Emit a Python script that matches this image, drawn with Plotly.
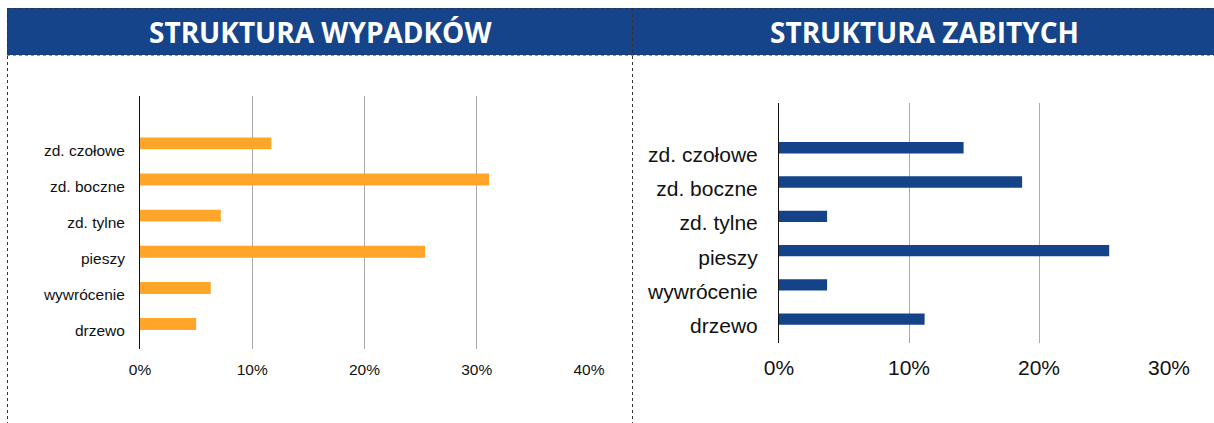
import plotly.graph_objects as go
from plotly.subplots import make_subplots

# Data
categories = ["zd. czołowe", "zd. boczne", "zd. tylne", "pieszy", "wywrócenie", "drzewo"]
wypadki_pct = [11.7, 31.1, 7.2, 25.4, 6.3, 5.0]
zabici_pct = [14.2, 18.7, 3.7, 25.4, 3.7, 11.2]
left_ticks = [0, 10, 20, 30, 40]
right_ticks = [0, 10, 20, 30]
title_left = "STRUKTURA WYPADKÓW"
title_right = "STRUKTURA ZABITYCH"

W, H = 1214, 423
ORANGE = "#FFA52A"
BLUE = "#144389"
HEADER = "#15448A"
FONT = "Liberation Sans, Arial, sans-serif"


def px(x):
    return x / W


def py(y):
    return 1 - y / H


fig = make_subplots(rows=1, cols=2)

fig.add_trace(go.Bar(
    y=categories, x=wypadki_pct, orientation="h",
    marker=dict(color=ORANGE, line=dict(width=0)),
    width=0.33, offset=-0.355, showlegend=False, hoverinfo="x+y",
), row=1, col=1)

fig.add_trace(go.Bar(
    y=categories, x=zabici_pct, orientation="h",
    marker=dict(color=BLUE, line=dict(width=0)),
    width=0.33, offset=-0.36, showlegend=False, hoverinfo="x+y",
), row=1, col=2)

grid = dict(showgrid=True, gridcolor="#ABABAB", gridwidth=1, zeroline=False,
            ticks="", showline=False, automargin=False)

fig.update_xaxes(domain=[px(140), px(589)], range=[0, 40],
                 tickvals=left_ticks, ticktext=[f"{v}%" for v in left_ticks],
                 tickfont=dict(family=FONT, size=15.5, color="#111"),
                 ticklabelstandoff=9, **grid, row=1, col=1)
fig.update_xaxes(domain=[px(779), px(1169)], range=[0, 30],
                 tickvals=right_ticks, ticktext=[f"{v}%" for v in right_ticks],
                 tickfont=dict(family=FONT, size=21, color="#111"),
                 ticklabelstandoff=10, **grid, row=1, col=2)

cat = dict(type="category", categoryorder="array", categoryarray=categories,
           range=[5.5, -1.5], showgrid=False, zeroline=False, ticks="",
           showline=True, linecolor="#111", linewidth=1, automargin=False)

fig.update_yaxes(domain=[py(349), py(96)], tickfont=dict(family=FONT, size=15.5, color="#111"),
                 ticklabelstandoff=11, **cat, row=1, col=1)
fig.update_yaxes(domain=[py(343), py(103)], tickfont=dict(family=FONT, size=21, color="#111"),
                 ticklabelstandoff=16, **cat, row=1, col=2)

shapes = []
# header band
shapes.append(dict(type="rect", xref="paper", yref="paper", x0=px(7), x1=1.0,
                   y0=py(55), y1=py(8), fillcolor=HEADER, line=dict(width=0), layer="below"))
dot = dict(color="#333333", width=1, dash="dot")
# dotted frame lines
shapes.append(dict(type="line", xref="paper", yref="paper", x0=px(7), x1=1.0,
                   y0=py(8.5), y1=py(8.5), line=dot))
shapes.append(dict(type="line", xref="paper", yref="paper", x0=px(7), x1=1.0,
                   y0=py(55), y1=py(55), line=dot))
shapes.append(dict(type="line", xref="paper", yref="paper", x0=px(7.5), x1=px(7.5),
                   y0=py(8), y1=0, line=dot))
shapes.append(dict(type="line", xref="paper", yref="paper", x0=px(632.5), x1=px(632.5),
                   y0=py(8), y1=0, line=dot))

annotations = [
    dict(text=f"<b>{title_left}</b>", x=px(320), y=py(32.5), xref="paper", yref="paper",
         showarrow=False, xanchor="center", yanchor="middle",
         font=dict(family="Open Sans, sans-serif", size=28, color="white")),
    dict(text=f"<b>{title_right}</b>", x=px(924), y=py(32.5), xref="paper", yref="paper",
         showarrow=False, xanchor="center", yanchor="middle",
         font=dict(family="Open Sans, sans-serif", size=28, color="white")),
]

fig.update_layout(
    template="none",
    width=W, height=H, autosize=False,
    margin=dict(l=0, r=0, t=0, b=0, pad=0),
    paper_bgcolor="white", plot_bgcolor="white",
    shapes=shapes, annotations=annotations,
    barmode="overlay", showlegend=False,
)

fig.write_html(
    "out.html",
    config={"displayModeBar": False},
    post_script="document.body.style.margin='0';document.body.style.overflow='hidden';",
)
